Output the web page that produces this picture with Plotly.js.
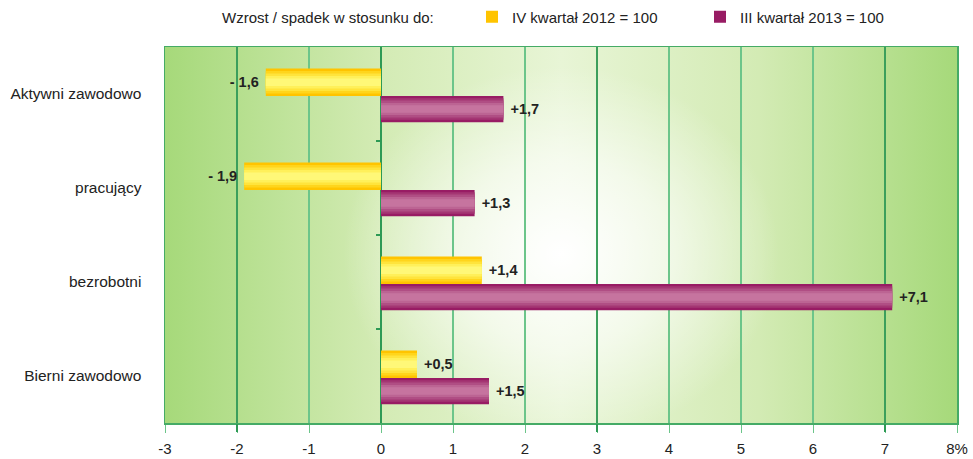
<!DOCTYPE html>
<html>
<head>
<meta charset="utf-8">
<script src="https://cdn.plot.ly/plotly-3.0.1.min.js"></script>
<style>html,body{margin:0;padding:0;background:#fff;}#chart{width:973px;height:459px;}</style>
</head>
<body>
<div id="chart"></div>
<script>
// Data
var categories = ["Aktywni zawodowo", "pracujący", "bezrobotni", "Bierni zawodowo"];
var seriesNames = ["IV kwartał 2012 = 100", "III kwartał 2013 = 100"];
var valuesQ4_2012 = [-1.6, -1.9, 1.4, 0.5];
var valuesQ3_2013 = [1.7, 1.3, 7.1, 1.5];
var tickValues = [-3, -2, -1, 0, 1, 2, 3, 4, 5, 6, 7, 8];
var tickLabels = ["-3", "-2", "-1", "0", "1", "2", "3", "4", "5", "6", "7", "8%"];
var legendTitle = "Wzrost / spadek w stosunku do:";

function fmt(v) {
  var s = Math.abs(v).toFixed(1).replace(".", ",");
  return v < 0 ? "- " + s + "\u00a0" : "\u00a0+" + s;
}

var font = "Liberation Sans, Arial, sans-serif";

// layered bar "gradient" approximation
function layers(vals, name, colors, offset, width) {
  var out = [];
  var fr = [1, 0.82, 0.64, 0.46, 0.28];
  for (var i = 0; i < colors.length; i++) {
    var w = width * fr[i];
    var o = offset + (width - w) / 2;
    var t = {
      type: "bar", orientation: "h",
      x: vals, y: categories,
      name: name,
      width: w, offset: o,
      marker: {color: colors[i], line: {width: 0}},
      showlegend: i === 0,
      hoverinfo: "skip",
      cliponaxis: false
    };
    if (i === 0) {
      t.text = vals.map(fmt);
      t.textposition = "outside";
      t.textfont = {family: font, size: 14.5, color: "#222", weight: "bold"};
    }
    out.push(t);
  }
  return out;
}

var traces = []
  .concat(layers(valuesQ4_2012, seriesNames[0], ["#ffc400", "#ffd51c", "#ffe43c", "#fff05a", "#fff878"], -0.27, 0.29))
  .concat(layers(valuesQ3_2013, seriesNames[1], ["#981c64", "#a43673", "#b04e84", "#bc6493", "#c6749f"], 0.02, 0.28));

// helper trace for extra axes
traces.push({type: "scatter", x: [0], y: [0], xaxis: "x2", yaxis: "y2", mode: "markers",
  marker: {opacity: 0}, showlegend: false, hoverinfo: "skip"});

var svg = '<svg xmlns="http://www.w3.org/2000/svg" width="792" height="376" viewBox="0 0 792 376" preserveAspectRatio="none">' +
  '<defs><linearGradient id="g" x1="0" y1="0" x2="1" y2="0">' +
  '<stop offset="0" stop-color="#a6d97a"/><stop offset="0.27" stop-color="#d3ebb4"/>' +
  '<stop offset="0.5" stop-color="#e8f5d6"/><stop offset="0.75" stop-color="#d3ebb4"/>' +
  '<stop offset="1" stop-color="#a6d97a"/></linearGradient>' +
  '<radialGradient id="r" cx="0.5" cy="0.55" r="0.5" gradientTransform="translate(0.5 0.55) scale(0.55 1) translate(-0.5 -0.55)">' +
  '<stop offset="0" stop-color="#ffffff" stop-opacity="1"/><stop offset="0.5" stop-color="#ffffff" stop-opacity="0.6"/>' +
  '<stop offset="1" stop-color="#ffffff" stop-opacity="0"/></radialGradient></defs>' +
  '<rect width="792" height="376" fill="url(#g)"/><rect width="792" height="376" fill="url(#r)"/></svg>';
var bgSrc = "data:image/svg+xml;base64," + btoa(svg);

var layout = {
  width: 973, height: 459,
  margin: {l: 165, r: 16, t: 47, b: 36, pad: 0, autoexpand: false},
  paper_bgcolor: "#ffffff",
  plot_bgcolor: "rgba(0,0,0,0)",
  barmode: "overlay",
  font: {family: font, size: 15, color: "#222"},
  images: [{source: bgSrc, xref: "paper", yref: "paper", x: 0, y: 1, sizex: 1, sizey: 1,
    sizing: "stretch", layer: "below", xanchor: "left", yanchor: "top"}],
  xaxis: {
    range: [-3, 8], tickvals: tickValues, ticktext: tickLabels,
    showgrid: true, gridcolor: "#6cc58a", gridwidth: 1.5,
    zeroline: true, zerolinecolor: "#2e9a55", zerolinewidth: 2,
    showline: true, mirror: true, linecolor: "#45ab66", linewidth: 1.5,
    ticks: "outside", ticklen: 8, tickcolor: "#6cc58a", tickwidth: 1,
    ticklabelstandoff: 3,
    tickfont: {family: font, size: 15, color: "#222"},
    fixedrange: true
  },
  xaxis2: {
    overlaying: "x", anchor: "y", range: [-3, 8], tickvals: [-2, 3, 7],
    showgrid: true, gridcolor: "#3c9f5c", gridwidth: 2,
    zeroline: false, showline: false, showticklabels: false,
    ticks: "outside", ticklen: 8, tickwidth: 2, tickcolor: "#2e9a55"
  },
  yaxis: {
    type: "category", autorange: "reversed",
    showgrid: false, zeroline: false,
    showline: true, mirror: true, linecolor: "#45ab66", linewidth: 1.5,
    ticks: "", ticklabelstandoff: 19,
    tickfont: {family: font, size: 15.5, color: "#222"}
  },
  yaxis2: {
    overlaying: "y", anchor: "free", position: 3 / 11, range: [3.5, -0.5],
    tickvals: [0.5, 1.5, 2.5], ticks: "outside", ticklen: 5, tickcolor: "#2e9a55", tickwidth: 1.5,
    showticklabels: false, showgrid: false, zeroline: false, showline: false
  },
  legend: {
    orientation: "h", x: (472 - 165) / 792, xanchor: "left", y: 1 + (47 - 17) / 376, yanchor: "middle",
    font: {family: font, size: 15, color: "#222"},
    bgcolor: "rgba(0,0,0,0)", entrywidth: 183, entrywidthmode: "pixels",
    traceorder: "normal"
  },
  annotations: [{
    text: legendTitle, xref: "paper", yref: "paper", x: (220 - 165) / 792, xanchor: "left",
    y: 1 + (47 - 17) / 376, yanchor: "middle", showarrow: false,
    font: {family: font, size: 15, color: "#222"}
  }],
  showlegend: true
};

Plotly.newPlot("chart", traces, layout, {displayModeBar: false, staticPlot: true});
</script>
</body>
</html>
